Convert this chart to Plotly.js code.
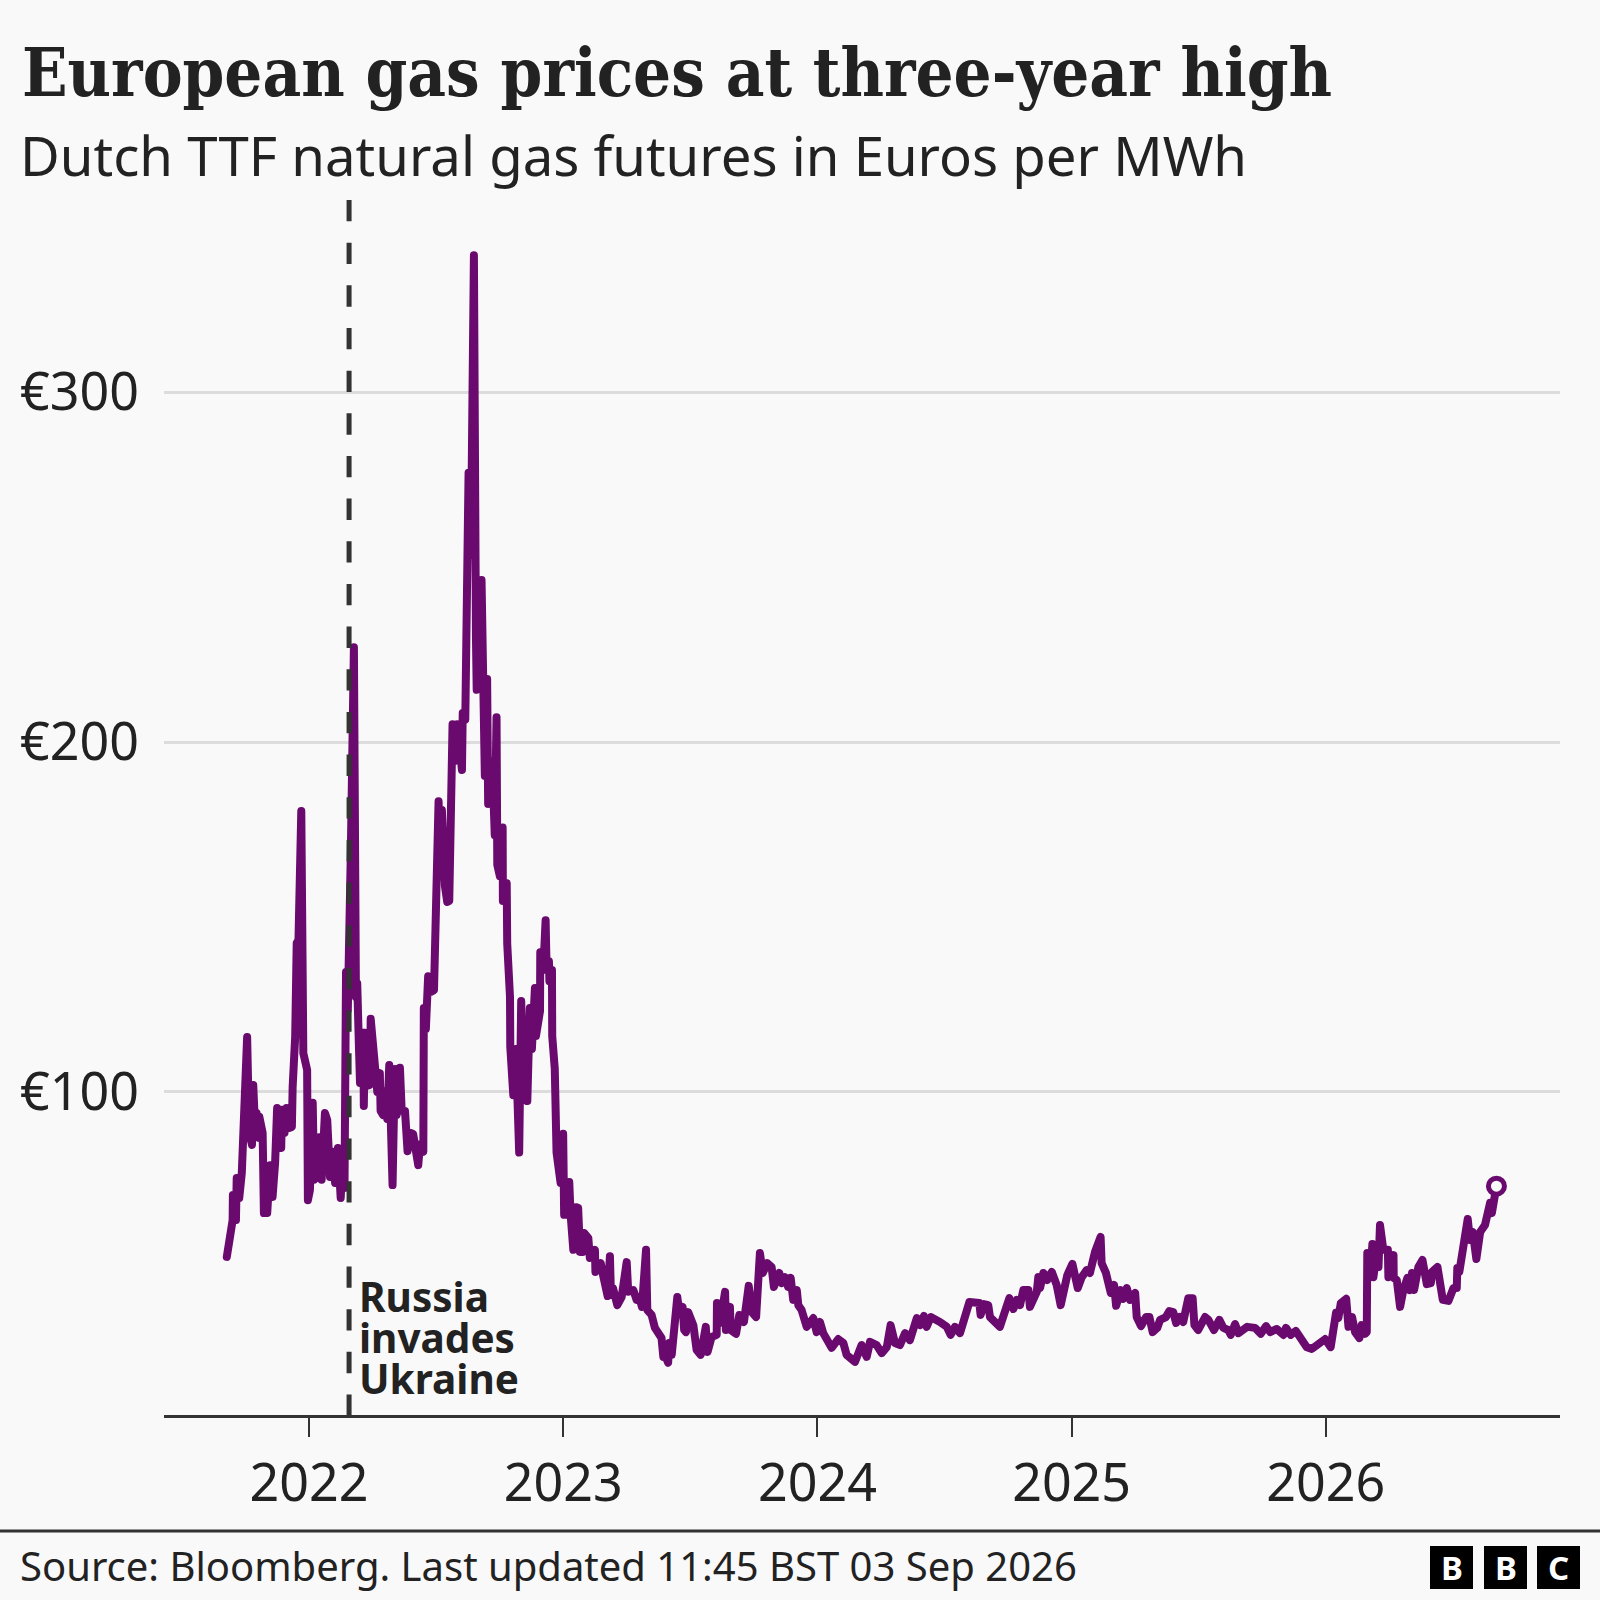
<!DOCTYPE html>
<html><head><meta charset="utf-8">
<script src="https://cdn.plot.ly/plotly-3.0.1.min.js"></script>
<style>html,body{margin:0;padding:0;background:#f9f9f9}#c{width:1600px;height:1600px}
.js-line{stroke-linejoin:round !important;stroke-linecap:round !important}</style>
</head><body><div id="c"></div>
<script>
const years = [2021.677,2021.700,2021.701,2021.713,2021.716,2021.726,2021.736,2021.744,2021.750,2021.757,2021.765,2021.776,2021.781,2021.789,2021.794,2021.804,2021.805,2021.818,2021.823,2021.836,2021.847,2021.857,2021.867,2021.875,2021.891,2021.894,2021.904,2021.912,2021.922,2021.933,2021.936,2021.946,2021.952,2021.959,2021.970,2021.978,2021.993,2021.996,2022.004,2022.015,2022.020,2022.030,2022.033,2022.041,2022.050,2022.063,2022.072,2022.083,2022.093,2022.103,2022.114,2022.125,2022.133,2022.140,2022.146,2022.153,2022.165,2022.177,2022.185,2022.190,2022.196,2022.201,2022.214,2022.216,2022.220,2022.227,2022.240,2022.243,2022.253,2022.269,2022.279,2022.282,2022.292,2022.299,2022.308,2022.316,2022.329,2022.338,2022.345,2022.358,2022.365,2022.378,2022.388,2022.400,2022.410,2022.418,2022.430,2022.437,2022.450,2022.452,2022.460,2022.469,2022.479,2022.492,2022.510,2022.518,2022.523,2022.535,2022.544,2022.552,2022.565,2022.574,2022.583,2022.602,2022.605,2022.615,2022.620,2022.628,2022.637,2022.649,2022.657,2022.660,2022.679,2022.685,2022.692,2022.701,2022.705,2022.721,2022.731,2022.738,2022.741,2022.751,2022.762,2022.763,2022.778,2022.780,2022.791,2022.792,2022.804,2022.814,2022.827,2022.835,2022.841,2022.851,2022.859,2022.869,2022.877,2022.889,2022.893,2022.909,2022.910,2022.922,2022.931,2022.935,2022.944,2022.946,2022.956,2022.957,2022.967,2022.974,2022.981,2022.990,2023.000,2023.004,2023.014,2023.024,2023.029,2023.040,2023.050,2023.059,2023.066,2023.077,2023.083,2023.099,2023.105,2023.125,2023.127,2023.148,2023.157,2023.175,2023.184,2023.188,2023.196,2023.213,2023.230,2023.250,2023.256,2023.276,2023.289,2023.299,2023.310,2023.326,2023.331,2023.348,2023.361,2023.374,2023.387,2023.394,2023.404,2023.413,2023.417,2023.427,2023.436,2023.449,2023.457,2023.470,2023.476,2023.483,2023.492,2023.512,2023.525,2023.541,2023.561,2023.568,2023.584,2023.604,2023.605,2023.617,2023.637,2023.640,2023.656,2023.659,2023.680,2023.693,2023.711,2023.730,2023.742,2023.759,2023.774,2023.785,2023.803,2023.820,2023.829,2023.850,2023.860,2023.873,2023.885,2023.895,2023.905,2023.919,2023.925,2023.938,2023.958,2023.984,2023.997,2024.010,2024.023,2024.042,2024.056,2024.082,2024.102,2024.115,2024.148,2024.174,2024.194,2024.207,2024.233,2024.253,2024.273,2024.288,2024.305,2024.325,2024.345,2024.364,2024.391,2024.404,2024.419,2024.430,2024.446,2024.482,2024.509,2024.524,2024.541,2024.561,2024.581,2024.598,2024.637,2024.642,2024.655,2024.672,2024.679,2024.718,2024.755,2024.771,2024.784,2024.797,2024.810,2024.830,2024.836,2024.863,2024.869,2024.876,2024.889,2024.904,2024.922,2024.941,2024.957,2024.983,2025.003,2025.024,2025.040,2025.059,2025.072,2025.083,2025.092,2025.114,2025.118,2025.135,2025.154,2025.167,2025.175,2025.193,2025.203,2025.217,2025.230,2025.250,2025.256,2025.273,2025.293,2025.306,2025.319,2025.337,2025.348,2025.371,2025.384,2025.400,2025.411,2025.426,2025.439,2025.459,2025.476,2025.483,2025.498,2025.525,2025.538,2025.560,2025.581,2025.597,2025.616,2025.626,2025.643,2025.656,2025.691,2025.722,2025.744,2025.765,2025.781,2025.807,2025.833,2025.843,2025.862,2025.882,2025.905,2025.925,2025.945,2025.971,2025.997,2026.019,2026.029,2026.040,2026.049,2026.059,2026.080,2026.089,2026.103,2026.115,2026.132,2026.141,2026.154,2026.161,2026.163,2026.177,2026.183,2026.187,2026.200,2026.207,2026.213,2026.226,2026.244,2026.246,2026.266,2026.267,2026.279,2026.292,2026.305,2026.321,2026.331,2026.339,2026.347,2026.364,2026.380,2026.397,2026.413,2026.417,2026.439,2026.449,2026.460,2026.482,2026.502,2026.515,2026.517,2026.525,2026.541,2026.558,2026.567,2026.578,2026.592,2026.607,2026.626,2026.646,2026.653,2026.659,2026.671];
const prices = [52.9,63.4,70.6,63.4,75.4,69.7,76.9,94,99,115.7,88.3,84.9,102,88.3,94,86.9,92.9,88.3,65.4,65.4,79.1,70,79.7,95.4,84,94.9,88.3,95.4,89.7,90,101.4,115.7,142.6,143.4,180.3,111.1,106.3,69.1,72,96.9,74.9,87.1,75.4,87.1,74.9,94,92,75.7,82.9,74,84,69.7,81.1,72.6,134.3,123.4,169.1,227.1,127.1,131.1,114.9,102.6,116.9,96,116.9,101.7,102,120.9,111.7,100,105.4,94.6,93.4,100.3,92.3,107.7,73.4,106.6,93.4,106.9,94.6,94.6,83.1,88.3,88,82.9,79.1,85.1,82.9,124,118,133.1,128.6,129.1,183.1,163.7,180.6,158.9,154.3,154.6,205.1,194.6,205.1,192,208.3,206.3,226,276.9,253.4,339.1,230,214.9,246.3,214,190.3,218,182.3,194.6,173.4,207.1,164.9,161.7,175.6,154.6,159.7,142.4,127.1,112.9,99.1,112.3,82.7,126,109.1,118.4,97.4,124,112.3,129.7,116,123.1,139.9,134.9,149.1,134.9,137.4,131.7,134.9,116,106.7,82.7,80,74,88.1,64.9,64.9,74.3,65.4,54.9,67.1,66.9,54.3,54.3,59.7,58.3,52.6,54.9,48.6,51.1,47.7,41.7,53.1,42,44,39.1,41.4,51.4,42.9,43.4,40.6,41.4,38.6,54.9,37.7,36.3,32.6,31.1,29.7,24.3,24.3,22.6,28.3,24.9,32,41.4,36.9,38.6,32,31.4,37.1,33.4,26.3,24.9,32.9,25.7,30,30.6,39.7,34,42.9,32,38.6,32,30.9,36.3,34.3,44.6,37.1,35.7,54,48.3,51.1,50,44.3,48.3,45.4,47.1,44.3,46.9,40.6,43.4,39.1,37.7,32.9,35.4,31.4,34.3,31.1,29.1,26.9,29.4,28.3,24.9,22.9,27.7,24.3,28.6,27.7,25.4,27.1,33.4,28.3,27.7,31.1,29.1,35.4,33.4,36,32.9,35.7,34.3,32.9,30.6,32.9,31.1,36.9,40,39.7,36.3,39.4,39.1,35.7,32.9,41.1,38,40.6,39.1,43.4,43.4,38.6,42.9,47.1,44,48.3,46.3,48.6,44.9,39.1,47.7,50.9,44,47.1,49.1,48.3,53.4,54.3,58.6,51.1,48.3,42.6,44.9,38.9,43.4,40.9,44,40.6,42.6,35.7,33.1,35.7,35.7,31.4,32.6,34.9,35.7,37.4,37.1,34,35.7,34.3,41.1,41.1,33.4,32,35.7,34.9,32,34.9,32.6,32,30.6,33.7,31.1,32.9,32.6,30.9,33.1,31.4,32.3,30.6,32.6,30.6,31.7,29.1,27.1,26.6,28.3,29.4,27.1,31.1,36.9,35.4,39.7,40.9,32.9,35.7,31.4,29.7,33.4,30.9,31.4,54,49.7,56.6,47.1,54,50,62,54.9,54.9,47.1,53.4,46.9,46.3,38.6,43.4,46.9,43.4,48.3,43.4,50,52,45.1,45.4,48.6,50,44.3,40.6,40.3,44,44,49.7,48.6,57.7,63.7,57.7,60,52.3,60,62,68.3,65.4,69.1,73.1];
const yearTicks = [2022,2023,2024,2025,2026];
const priceTicks = [100,200,300];
const priceLabels = ['€100','€200','€300'];
const invasionYear = 2022.158;
const invasionLines = ['Russia','invades','Ukraine'];
const logoLetters = ['B','B','C'];
const titleText = 'European gas prices at three-year high';
const subtitleText = 'Dutch TTF natural gas futures in Euros per MWh';
const sourceText = 'Source: Bloomberg. Last updated 11:45 BST 03 Sep 2026';

const W=1600,H=1600,L=164,R=40,T=200,B=185;
const px=x=>(x-L)/(W-L-R), py=y=>1-(y-T)/(H-T-B);
const SANS='"Noto Sans","Open Sans",sans-serif', SERIF='"DejaVu Serif Condensed","DejaVu Serif",serif';
const INK='#222222', LINE='#6a0a6e', BG='#f9f9f9';
const txt=(text,x,y,size,opts={})=>Object.assign({text,xref:'paper',yref:'paper',x:px(x),y:py(y),showarrow:false,xanchor:'left',yanchor:'middle',font:{family:SANS,size,color:INK}},opts);
const logoX=[1430,1484,1537];
const annotations=[
  txt(subtitleText,18,155,54.5),
  ...invasionLines.map((t,i)=>txt(t,357,1296+i*41,40.5,{font:{family:SANS,size:40.5,color:INK,weight:700}})),
  txt(sourceText,18,1565,40),
  ...logoLetters.map((t,i)=>txt(t,logoX[i]+21.5,1567,33,{xanchor:'center',font:{family:SANS,size:33,color:'#ffffff',weight:700}}))
];
const shapes=[
  {type:'line',xref:'x',yref:'paper',x0:invasionYear,x1:invasionYear,y0:1,y1:0,layer:'above',line:{color:'#333333',width:5,dash:'21.33px,21.33px'}},
  {type:'line',xref:'paper',yref:'paper',x0:px(0),x1:px(1600),y0:py(1531),y1:py(1531),line:{color:'#333333',width:3}},
  ...logoX.map(x=>({type:'rect',xref:'paper',yref:'paper',x0:px(x),x1:px(x+43),y0:py(1546),y1:py(1589),fillcolor:'#000000',line:{width:0}}))
];
Plotly.newPlot('c',[
  {type:'scatter',mode:'lines',x:years,y:prices,line:{color:LINE,width:8,shape:'linear'},hoverinfo:'skip',showlegend:false},
  {type:'scatter',mode:'markers',x:years.slice(-1),y:prices.slice(-1),marker:{size:16,color:BG,line:{color:LINE,width:5}},hoverinfo:'skip',showlegend:false}
],{
  width:W,height:H,margin:{l:L,r:R,t:T,b:B},paper_bgcolor:BG,plot_bgcolor:BG,showlegend:false,
  title:{text:titleText,xref:'container',yref:'container',x:22/W,xanchor:'left',y:1-73/H,yanchor:'middle',font:{family:SERIF,size:66.5,color:INK,weight:700}},
  xaxis:{type:'linear',range:[2021.430,2026.921],tickmode:'array',tickvals:yearTicks,ticktext:yearTicks.map(String),ticks:'outside',ticklen:19,tickwidth:2,tickcolor:'#333333',showgrid:false,zeroline:false,showline:true,linecolor:'#333333',linewidth:3,ticklabelstandoff:2,tickfont:{family:SANS,size:52,color:INK}},
  yaxis:{range:[7.71,354.86],tickmode:'array',tickvals:priceTicks,ticktext:priceLabels,ticks:'',showgrid:true,gridcolor:'#dcdcdc',gridwidth:3,zeroline:false,showline:false,ticklabelstandoff:24,tickfont:{family:SANS,size:52,color:INK}},
  annotations,shapes
},{displayModeBar:false,staticPlot:true});
</script></body></html>
